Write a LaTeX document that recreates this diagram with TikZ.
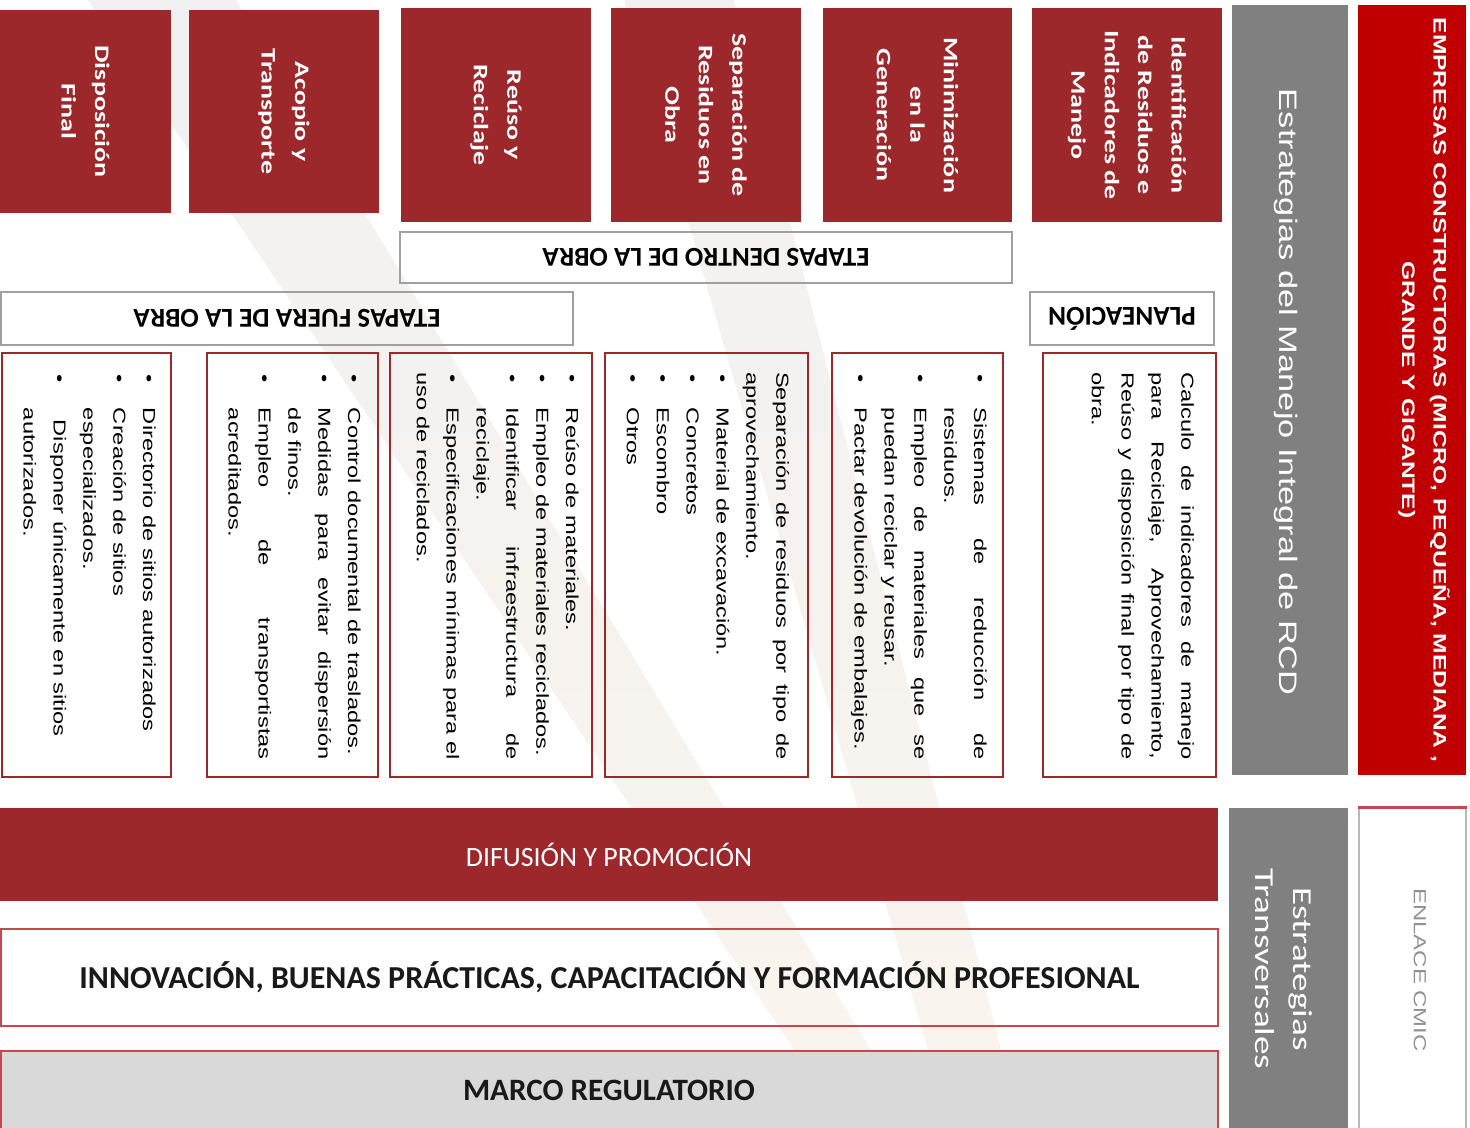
\documentclass[tikz,border=0pt]{standalone}
\usepackage{fontspec}
\setmainfont{Carlito}
\newfontfamily\arialfont{Liberation Sans}
\usepackage{enumitem}
\usetikzlibrary{fit,calc}

\definecolor{rcdred}{RGB}{157,40,44}
\definecolor{empred}{RGB}{192,0,0}
\definecolor{innored}{RGB}{196,72,76}
\definecolor{colgray}{RGB}{128,128,128}
\definecolor{etapgray}{RGB}{160,160,160}
\definecolor{marcogray}{RGB}{217,217,217}
\definecolor{cmicgray}{RGB}{145,145,145}
\definecolor{wmgray}{RGB}{241,241,241}
\definecolor{wmbeige}{RGB}{250,244,238}

\gdef\sq{1.36}
\gdef\stagefill{rcdred}
\gdef\colfill{colgray}
\gdef\empfill{empred}
\gdef\marcofill{marcogray}

\hyphenpenalty=10000
\tolerance=9999

\newenvironment{rcdlist}{\begin{itemize}[nosep,leftmargin=15pt,labelwidth=14pt,labelsep=0pt,align=left,label=\textbullet]}{\end{itemize}}

\begin{document}
\begin{tikzpicture}[x=0.02cm, y=-0.02cm,
  stage/.style={inner sep=0pt, fill=\stagefill},
  stagetext/.style={rotate=-90, xscale=\sq, inner sep=0pt, text=white, align=center, font=\bfseries\fontsize{11.7}{19}\selectfont},
  listbox/.style={inner sep=0pt, draw=rcdred, line width=1.6pt},
  listtext/.style={rotate=-90, xscale=\sq, anchor=north west, inner sep=0pt, text width=5.7cm, align=justify, font=\arialfont\fontsize{9.9}{17}\selectfont},
  etapa/.style={inner sep=0pt, draw=etapgray, line width=1.2pt},
  etapatext/.style={rotate=180, font=\bfseries\fontsize{15.5}{18}\selectfont},
  bar/.style={inner sep=0pt, draw=innored, line width=1.6pt}]

\useasboundingbox (0,0) rectangle (1470,1127);

\shade[top color=wmgray, bottom color=wmbeige] (81,-10) -- (230,-10) -- (925,1140) -- (855,1140) -- cycle;
\shade[top color=wmgray, bottom color=wmbeige] (621,-10) -- (731,-10) -- (1024,1140) -- (954,1140) -- cycle;

\node[stage, fit={(0,10) (171,213)}] (dfin) {};
\node[stage, fit={(189,10) (379,213)}] (acop) {};
\node[stage, fit={(401,8) (591,222)}] (reus) {};
\node[stage, fit={(611,8) (801,222)}] (sepa) {};
\node[stage, fit={(823,8) (1012,222)}] (mini) {};
\node[stage, fit={(1032,8) (1222,222)}] (iden) {};

\node[stagetext] (tdfin) at (dfin.center) {Disposición\\Final};
\node[stagetext] (tacop) at (acop.center) {Acopio y\\Transporte};
\node[stagetext] (treus) at (reus.center) {Reúso y\\Reciclaje};
\node[stagetext] (tsepa) at (sepa.center) {Separación de\\Residuos en\\Obra};
\node[stagetext] (tmini) at (mini.center) {Minimización\\en la\\Generación};
\node[stagetext] (tiden) at (iden.center) {Identificación\\de Residuos e\\Indicadores de\\Manejo};

\node[inner sep=0pt, fill=\colfill, fit={(1232,5) (1348,775)}] (mirc) {};
\node[inner sep=0pt, fill=\empfill, fit={(1358,5) (1466,775)}] (empr) {};
\node[rotate=-90, xscale=\sq, text=white, font=\arialfont\fontsize{14.4}{18}\selectfont] (tmirc) at (1286,392) {Estrategias del Manejo Integral de RCD};
\node[rotate=-90, xscale=\sq, text=white, align=center, font=\arialfont\bfseries\fontsize{10.3}{18}\selectfont] (tempr) at (1424,390) {EMPRESAS CONSTRUCTORAS (MICRO, PEQUEÑA, MEDIANA ,\\GRANDE Y GIGANTE)};

\node[etapa, fit={(400,232) (1012,283)}] (dentro) {};
\node[etapatext] (tdentro) at (dentro.center) {ETAPAS DENTRO DE LA OBRA};
\node[etapa, fit={(1,292) (573,345)}] (fuera) {};
\node[etapatext] (tfuera) at (fuera.center) {ETAPAS FUERA DE LA OBRA};
\node[etapa, fit={(1030,292) (1214,345)}] (plan) {};
\node[etapatext] (tplan) at (plan.center) {PLANEACIÓN};

\node[listbox, fit={(2,353) (171,777)}] (ldfin) {};
\node[listbox, fit={(207,353) (378,777)}] (lacop) {};
\node[listbox, fit={(390,353) (592,777)}] (lreus) {};
\node[listbox, fit={(605,353) (808,777)}] (lsepa) {};
\node[listbox, fit={(832,353) (1003,777)}] (lmini) {};
\node[listbox, fit={(1043,353) (1216,777)}] (liden) {};

\node[listtext] (xdfin) at ($(ldfin.north east)+(1,20)$) {\begin{rcdlist}
  \item Directorio de sitios autorizados
  \item Creación de sitios\\ especializados.
  \item \hspace*{5pt}Disponer únicamente en sitios\\ autorizados.
\end{rcdlist}};
\node[listtext] (xacop) at ($(lacop.north east)+(-1,20)$) {\begin{rcdlist}
  \item Control documental de traslados.
  \item Medidas para evitar dispersión \linebreak de finos.
  \item Empleo de transportistas \linebreak acreditados.
\end{rcdlist}};
\node[listtext] (xreus) at ($(lreus.north east)+(3,20)$) {\begin{rcdlist}
  \item Reúso de materiales.
  \item Empleo de materiales reciclados.
  \item Identificar infraestructura de \linebreak reciclaje.
  \item Especificaciones mínimas para el \linebreak\hspace*{-15pt}uso de reciclados.
\end{rcdlist}};
\node[listtext] (xsepa) at ($(lsepa.north east)+(-20,20)$) {Separación de residuos por tipo de \linebreak aprovechamiento.
\begin{rcdlist}
  \item Material de excavación.
  \item Concretos
  \item Escombro
  \item Otros
\end{rcdlist}};
\node[listtext] (xmini) at ($(lmini.north east)+(0,20)$) {\begin{rcdlist}
  \item Sistemas de reducción de \linebreak residuos.
  \item Empleo de materiales que se \linebreak puedan reciclar y reusar.
  \item Pactar devolución de embalajes.
\end{rcdlist}};
\node[listtext] (xiden) at ($(liden.north east)+(-23,20)$) {Calculo de indicadores de manejo \linebreak para Reciclaje, Aprovechamiento, \linebreak Reúso y disposición final por tipo de \linebreak obra.};

\node[inner sep=0pt, fill=\stagefill, fit={(0,808) (1218,901)}] (difu) {};
\node[text=white, font=\fontsize{15.9}{18}\selectfont] (tdifu) at (difu.center) {DIFUSIÓN Y PROMOCIÓN};
\node[bar, fit={(1,929) (1218,1026)}] (inno) {};
\node[text=black!90, font=\bfseries\fontsize{18.2}{20}\selectfont] (tinno) at (inno.center) {INNOVACIÓN, BUENAS PRÁCTICAS, CAPACITACIÓN Y FORMACIÓN PROFESIONAL};
\node[bar, fill=\marcofill, fit={(1,1051) (1218,1140)}] (marco) {};
\node[text=black!90, font=\bfseries\fontsize{17.7}{20}\selectfont] (tmarco) at (609,1090) {MARCO REGULATORIO};

\node[inner sep=0pt, fill=\colfill, fit={(1229,808) (1348,1140)}] (tran) {};
\node[rotate=-90, xscale=\sq, text=white, align=center, font=\fontsize{15.6}{21.5}\selectfont] (ttran) at (1284,969) {Estrategias\\Transversales};
\node[inner sep=0pt, draw=gray!55, line width=0.6pt, fit={(1359,808) (1466,1140)}] (cmic) {};
\draw[innored, line width=1.6pt] (cmic.north west) -- (cmic.north east);
\node[rotate=-90, xscale=\sq, text=cmicgray, font=\arialfont\fontsize{10}{12}\selectfont] (tcmic) at (1420,970) {ENLACE CMIC};

\end{tikzpicture}
\end{document}
